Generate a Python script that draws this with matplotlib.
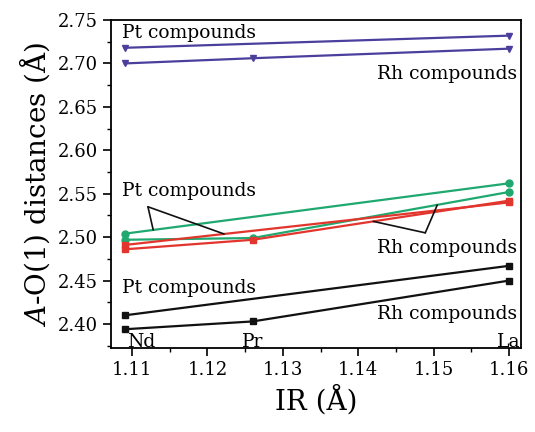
import numpy as np
import matplotlib
matplotlib.use("Agg")
import matplotlib.pyplot as plt
from matplotlib.ticker import MultipleLocator

# Ionic radii (Å)
ir_nd, ir_pr, ir_la = 1.109, 1.126, 1.16
x_pt = [ir_nd, ir_la]
x_rh = [ir_nd, ir_pr, ir_la]

# A-O(1) distances (Å)
purple_pt = [2.718, 2.732]
purple_rh = [2.700, 2.706, 2.717]
green_pt = [2.504, 2.562]
green_rh = [2.497, 2.499, 2.552]
red_pt = [2.491, 2.540]
red_rh = [2.486, 2.497, 2.542]
black_pt = [2.410, 2.467]
black_rh = [2.394, 2.403, 2.450]

element_labels = ["Nd", "Pr", "La"]
element_x = [ir_nd, ir_pr, ir_la]

PURPLE = "#4b3f9e"
GREEN = "#1fa870"
RED = "#e2352d"
BLACK = "#111111"

plt.rcParams['font.family'] = ['DejaVu Serif']
plt.rcParams['mathtext.fontset'] = 'dejavuserif'
fig = plt.figure(figsize=(5.35, 4.32), dpi=100)
ax = fig.add_axes([0.2075, 0.1944, 0.7663, 0.7593])

lw = 1.6
ms = 5
ax.plot(x_pt, purple_pt, color=PURPLE, lw=lw, marker='v', ms=ms)
ax.plot(x_rh, purple_rh, color=PURPLE, lw=lw, marker='v', ms=ms)
ax.plot(x_pt, green_pt, color=GREEN, lw=lw, marker='o', ms=ms)
ax.plot(x_rh, green_rh, color=GREEN, lw=lw, marker='o', ms=ms)
ax.plot(x_pt, red_pt, color=RED, lw=lw, marker='s', ms=ms)
ax.plot(x_rh, red_rh, color=RED, lw=lw, marker='s', ms=ms)
ax.plot(x_pt, black_pt, color=BLACK, lw=lw, marker='s', ms=ms)
ax.plot(x_rh, black_rh, color=BLACK, lw=lw, marker='s', ms=ms)

ax.set_xlim(1.1072, 1.1616)
ax.set_ylim(2.3724, 2.75)
ax.xaxis.set_major_locator(MultipleLocator(0.01))
ax.xaxis.set_minor_locator(MultipleLocator(0.005))
ax.yaxis.set_major_locator(MultipleLocator(0.05))
ax.yaxis.set_minor_locator(MultipleLocator(0.025))
ax.xaxis.set_major_formatter(matplotlib.ticker.FormatStrFormatter('%.2f'))
ax.yaxis.set_major_formatter(matplotlib.ticker.FormatStrFormatter('%.2f'))
ax.tick_params(which='major', direction='out', length=6, width=1.2, labelsize=13)
ax.tick_params(which='minor', direction='out', length=3, width=1.0)
for s in ax.spines.values():
    s.set_linewidth(1.3)

ax.set_xlabel("IR (Å)", fontsize=20, labelpad=4)
ax.set_ylabel(r"$\mathit{A}$-O(1) distances (Å)", fontsize=20, labelpad=4)

fs = 13.5
ax.text(1.1087, 2.735, "Pt compounds", fontsize=fs, ha='left', va='center')
ax.text(1.1611, 2.688, "Rh compounds", fontsize=fs, ha='right', va='center')
ax.text(1.1087, 2.553, "Pt compounds", fontsize=fs, ha='left', va='center')
ax.text(1.1611, 2.488, "Rh compounds", fontsize=fs, ha='right', va='center')
ax.text(1.1087, 2.442, "Pt compounds", fontsize=fs, ha='left', va='center')
ax.text(1.1611, 2.411, "Rh compounds", fontsize=fs, ha='right', va='center')
for lab, xv in zip(element_labels, element_x):
    ax.text(xv + (0.0022 if lab == "Nd" else 0), 2.379, lab, fontsize=fs,
            ha='center', va='center')

# annotation leader lines
ap = dict(arrowstyle='-', color=BLACK, lw=1.2, shrinkA=0, shrinkB=0)
vx, vy = 1.1121, 2.535
for xe, xs, ys in [(1.1128, x_pt, green_pt), (1.1222, x_pt, red_pt)]:
    ax.annotate("", xy=(xe, np.interp(xe, xs, ys)), xytext=(vx, vy), arrowprops=ap)
vx2, vy2 = 1.1489, 2.505
for xe, xs, ys in [(1.1505, x_rh, green_rh), (1.1420, x_rh, red_rh)]:
    ax.annotate("", xy=(xe, np.interp(xe, xs, ys)), xytext=(vx2, vy2), arrowprops=ap)

fig.savefig("out.png", dpi=100)
